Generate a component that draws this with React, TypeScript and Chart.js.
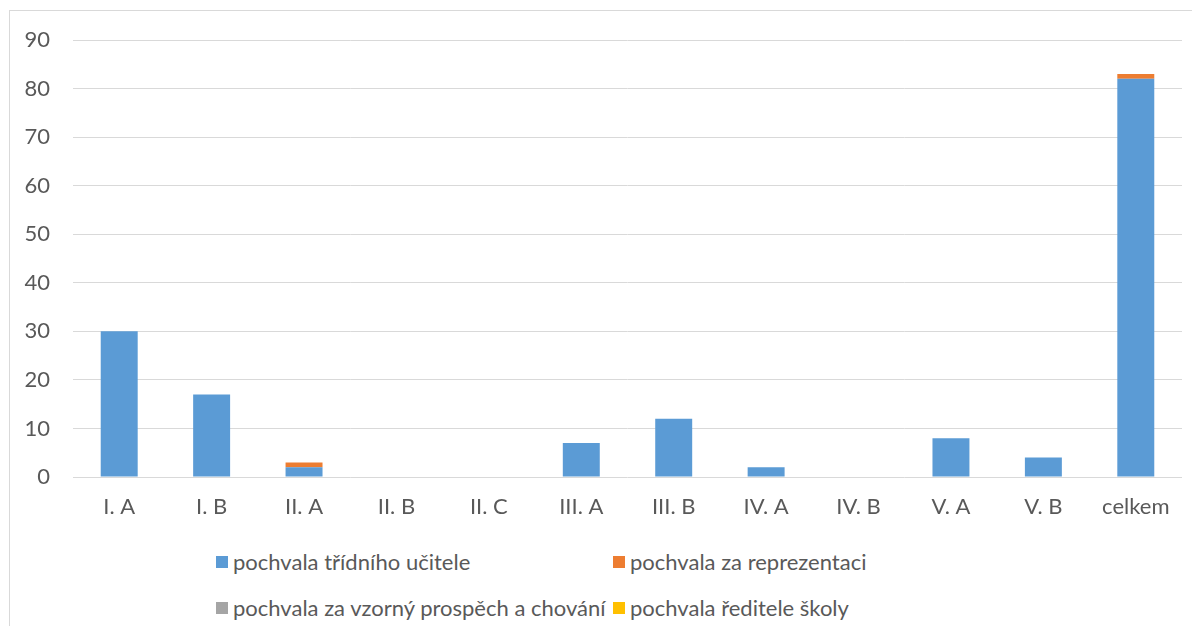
import React, { useEffect, useRef } from "react";
import { Chart, registerables } from "chart.js";

Chart.register(...registerables);

const categories = ["I. A", "I. B", "II. A", "II. B", "II. C", "III. A", "III. B", "IV. A", "IV. B", "V. A", "V. B", "celkem"];
const tridniUcitel = [30, 17, 2, 0, 0, 7, 12, 2, 0, 8, 4, 82];
const reprezentace = [0, 0, 1, 0, 0, 0, 0, 0, 0, 0, 0, 1];
const vzornyProspech = [0, 0, 0, 0, 0, 0, 0, 0, 0, 0, 0, 0];
const reditelSkoly = [0, 0, 0, 0, 0, 0, 0, 0, 0, 0, 0, 0];
const seriesNames = [
  "pochvala třídního učitele",
  "pochvala za reprezentaci",
  "pochvala za vzorný prospěch a chování",
  "pochvala ředitele školy",
];
const seriesColors = ["#5b9bd5", "#ed7d31", "#a5a5a5", "#ffc000"];

const FONT = "Lato, 'Open Sans', sans-serif";
const TEXT = "#595959";

export default function App() {
  const ref = useRef<HTMLCanvasElement>(null);
  useEffect(() => {
    if (!ref.current) return;
    const data = [tridniUcitel, reprezentace, vzornyProspech, reditelSkoly];
    const chart = new Chart(ref.current, {
      type: "bar",
      data: {
        labels: categories,
        datasets: data.map((d, i) => ({
          label: seriesNames[i],
          data: d,
          backgroundColor: seriesColors[i],
          borderWidth: 0,
          categoryPercentage: 1,
          barPercentage: 0.4,
        })),
      },
      options: {
        animation: false,
        responsive: false,
        maintainAspectRatio: false,
        layout: { padding: { top: 32, left: 0, right: 10, bottom: 0 } },
        plugins: { legend: { display: false }, tooltip: { enabled: false } },
        scales: {
          x: {
            stacked: true,
            grid: { display: false, drawTicks: false },
            border: { display: false },
            ticks: { color: TEXT, font: { family: FONT, size: 22 }, padding: 17, maxRotation: 0, autoSkip: false },
            afterFit: (s: any) => { s.height = 40; s.paddingLeft = 0; s.paddingRight = 0; },
          },
          y: {
            stacked: true,
            min: 0,
            max: 90,
            grid: { color: "#d9d9d9", lineWidth: 1, drawTicks: false },
            border: { display: false },
            ticks: { stepSize: 10, color: TEXT, font: { family: FONT, size: 22 }, padding: 23 },
            afterFit: (s: any) => { s.width = 65; s.paddingTop = 0; s.paddingBottom = 0; },
          },
        },
      },
    });
    return () => chart.destroy();
  }, []);

  const legendItem = (i: number) => (
    <div style={{ display: "flex", alignItems: "center", height: 24 }}>
      <span style={{ width: 12, height: 12, background: seriesColors[i], display: "inline-block", marginRight: 5, flex: "none" }} />
      <span style={{ color: TEXT, fontFamily: FONT, fontSize: 22, lineHeight: "24px", whiteSpace: "nowrap" }}>
        {seriesNames[i]}
      </span>
    </div>
  );

  return (
    <div style={{ position: "relative", width: 1184, height: 618 }}>
      <div style={{ position: "absolute", left: 1, top: 2, width: 1200, height: 700, border: "1px solid #d9d9d9", boxSizing: "border-box" }} />
      <canvas ref={ref} width={1184} height={509} style={{ position: "absolute", left: 0, top: 0 }} />
      <div style={{ position: "absolute", left: 208, top: 542 }}>{legendItem(0)}</div>
      <div style={{ position: "absolute", left: 605, top: 542 }}>{legendItem(1)}</div>
      <div style={{ position: "absolute", left: 208, top: 588 }}>{legendItem(2)}</div>
      <div style={{ position: "absolute", left: 605, top: 588 }}>{legendItem(3)}</div>
    </div>
  );
}
